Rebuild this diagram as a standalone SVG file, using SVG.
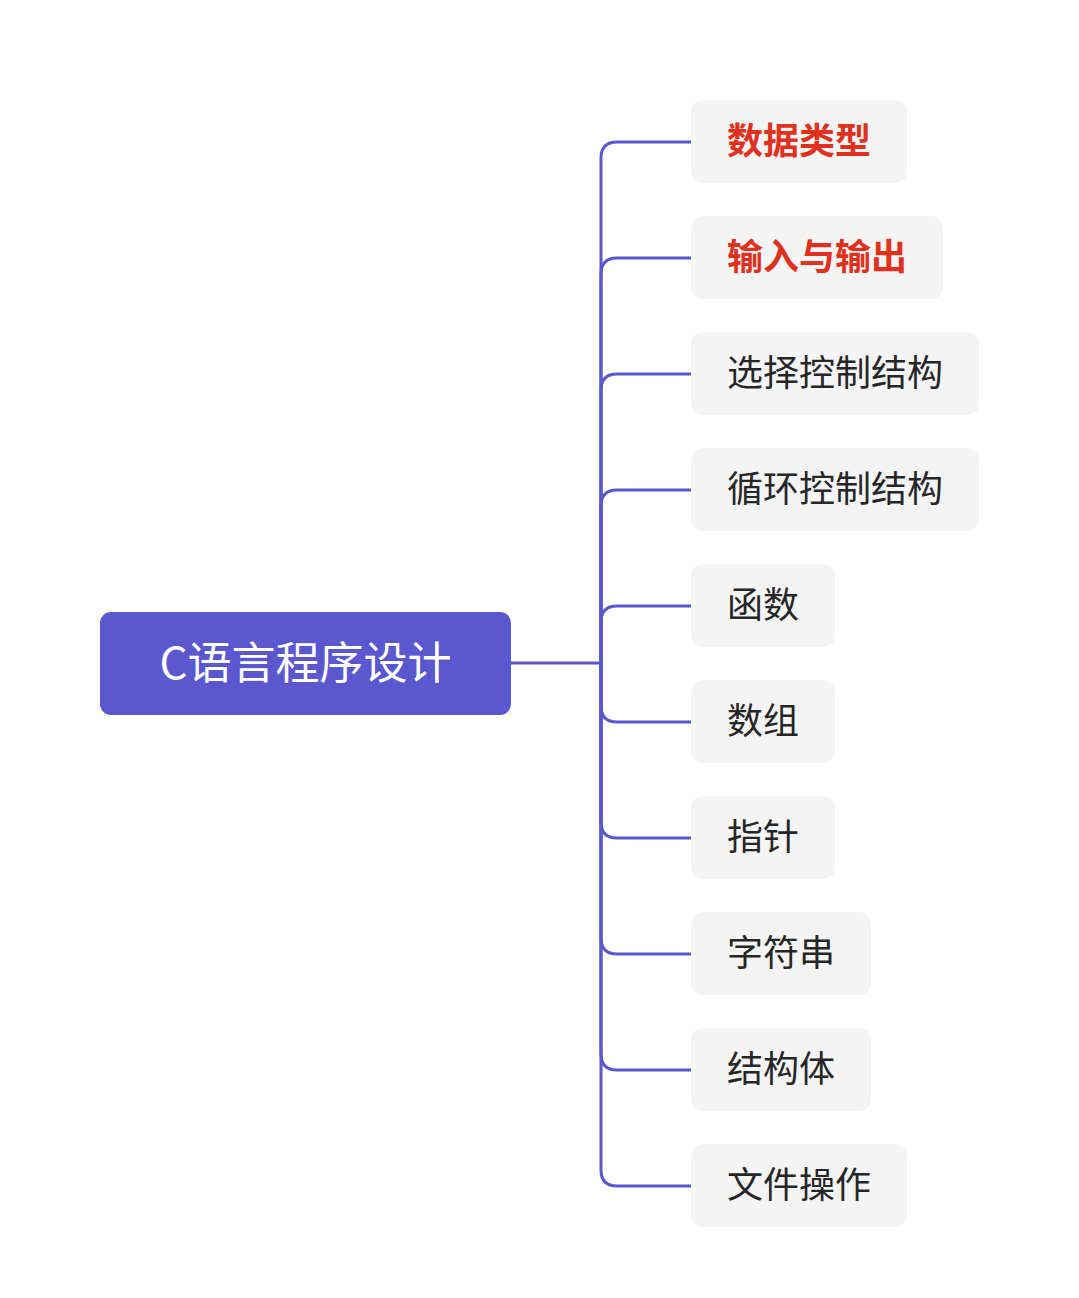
<svg xmlns="http://www.w3.org/2000/svg" width="1079" height="1298" viewBox="0 0 1079 1298">
<style>
.conn{fill:none;stroke:#5B58CF;stroke-width:3}
.box{fill:#F4F4F4}
.t{font-family:"Noto Sans CJK SC","Liberation Sans",sans-serif;font-size:36px;fill:#262626}
.hl{fill:#E0301E;font-weight:bold}
.root{fill:#5B58CF}
.rt{font-family:"Noto Sans CJK SC","Liberation Sans",sans-serif;font-size:44px;fill:#FFFFFF;text-anchor:middle}
</style>
<rect width="1079" height="1298" fill="#FFFFFF"/>
<g id="connectors">
<path class="conn" d="M511,663 H601"/>
<path class="conn" d="M601,663 V158 Q601,142 617,142 H691"/>
<path class="conn" d="M601,663 V274 Q601,258 617,258 H691"/>
<path class="conn" d="M601,663 V390 Q601,374 617,374 H691"/>
<path class="conn" d="M601,663 V506 Q601,490 617,490 H691"/>
<path class="conn" d="M601,663 V622 Q601,606 617,606 H691"/>
<path class="conn" d="M601,663 V706 Q601,722 617,722 H691"/>
<path class="conn" d="M601,663 V822 Q601,838 617,838 H691"/>
<path class="conn" d="M601,663 V938 Q601,954 617,954 H691"/>
<path class="conn" d="M601,663 V1054 Q601,1070 617,1070 H691"/>
<path class="conn" d="M601,663 V1170 Q601,1186 617,1186 H691"/>
</g>
<g id="root">
<rect class="root" x="100" y="612" width="411" height="103" rx="11"/>
<text class="rt" x="305.5" y="679">C语言程序设计</text>
</g>
<g id="n1"><rect class="box" x="691" y="100" width="216" height="83" rx="12"/><text class="t hl" x="727" y="154">数据类型</text></g>
<g id="n2"><rect class="box" x="691" y="216" width="252" height="83" rx="12"/><text class="t hl" x="727" y="270">输入与输出</text></g>
<g id="n3"><rect class="box" x="691" y="332" width="288" height="83" rx="12"/><text class="t" x="727" y="386">选择控制结构</text></g>
<g id="n4"><rect class="box" x="691" y="448" width="288" height="83" rx="12"/><text class="t" x="727" y="502">循环控制结构</text></g>
<g id="n5"><rect class="box" x="691" y="564" width="144" height="83" rx="12"/><text class="t" x="727" y="618">函数</text></g>
<g id="n6"><rect class="box" x="691" y="680" width="144" height="83" rx="12"/><text class="t" x="727" y="734">数组</text></g>
<g id="n7"><rect class="box" x="691" y="796" width="144" height="83" rx="12"/><text class="t" x="727" y="850">指针</text></g>
<g id="n8"><rect class="box" x="691" y="912" width="180" height="83" rx="12"/><text class="t" x="727" y="966">字符串</text></g>
<g id="n9"><rect class="box" x="691" y="1028" width="180" height="83" rx="12"/><text class="t" x="727" y="1082">结构体</text></g>
<g id="n10"><rect class="box" x="691" y="1144" width="216" height="83" rx="12"/><text class="t" x="727" y="1198">文件操作</text></g>
</svg>
